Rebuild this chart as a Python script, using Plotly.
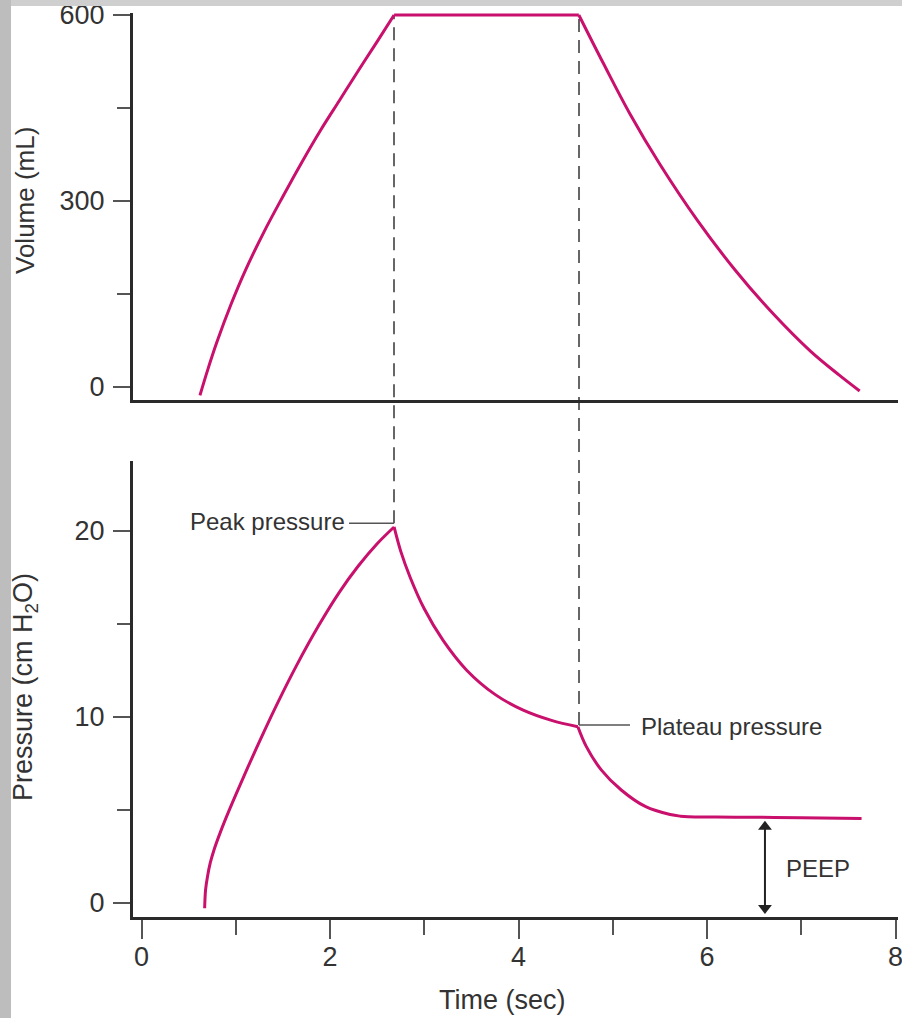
import plotly.graph_objects as go

# ---------------- data ----------------
# Volume (mL) vs time (sec)
vol_rise_t = [0.62, 0.70, 0.80, 0.95, 1.10, 1.30, 1.50, 1.70, 1.90, 2.10, 2.30, 2.50, 2.68]
vol_rise_v = [-14, 26, 72, 133, 187, 250, 307, 362, 414, 462, 510, 557, 600]
vol_hold_t = [2.68, 4.64]
vol_hold_v = [600, 600]
vol_fall_t = [4.64, 4.90, 5.18, 5.50, 5.90, 6.30, 6.70, 7.10, 7.40, 7.62]
vol_fall_v = [600, 522, 441, 359, 268, 188, 118, 57, 19, -7]

# Pressure (cm H2O) vs time (sec)
pres_rise_t = [0.67, 0.68, 0.70, 0.73, 0.77, 0.83, 0.90, 1.00, 1.13, 1.30, 1.45, 1.65, 1.88, 2.10, 2.30, 2.50, 2.68]
pres_rise_p = [-0.3, 0.7, 1.4, 2.15, 2.85, 3.7, 4.6, 5.8, 7.3, 9.2, 10.8, 12.8, 14.9, 16.7, 18.1, 19.3, 20.2]
pres_decay_t = [2.68, 2.75, 2.85, 3.00, 3.20, 3.45, 3.75, 4.05, 4.35, 4.63]
pres_decay_p = [20.2, 18.9, 17.5, 15.8, 14.1, 12.5, 11.2, 10.35, 9.8, 9.46]
pres_exp_t = [4.63, 4.72, 4.88, 5.09, 5.35, 5.61, 5.72, 5.80, 6.30, 7.00, 7.64]
pres_exp_p = [9.46, 8.39, 7.13, 6.06, 5.16, 4.74, 4.65, 4.62, 4.60, 4.57, 4.53]

peak_time, plateau_time = 2.679, 4.642
peak_label_p, plateau_label_p = 20.4, 9.55
peep_time, peep_bottom, peep_top = 6.615, -0.61, 4.41

vol_ticks, vol_minor = [0, 300, 600], [150, 450]
pres_ticks, pres_minor = [0, 10, 20], [5, 15]
time_ticks, time_minor = [0, 2, 4, 6, 8], [1, 3, 5, 7]

# ---------------- layout helpers ----------------
W, H = 902, 1018
def fx(px):
    return px / W
def fy(py):
    return 1 - py / H

FONT = "Liberation Sans, Arial, Helvetica, sans-serif"
TXT = "#333333"
AX = "#2a2a2a"
TK = "#555555"
CURVE = "#c8106c"

x_range = [(133 - 141.5) / 94.25, (898 - 141.5) / 94.25]
p_range = [-0.753, 23.763]
p_dom = [fy(916.7), fy(460.7)]
px_per_p = (916.7 - 460.7) / (p_range[1] - p_range[0])

fig = go.Figure()

for t, v in [(vol_rise_t, vol_rise_v), (vol_hold_t, vol_hold_v), (vol_fall_t, vol_fall_v)]:
    fig.add_trace(go.Scatter(x=t, y=v, mode="lines", xaxis="x", yaxis="y",
                             line=dict(color=CURVE, width=3, shape="spline", smoothing=1.0),
                             showlegend=False, hoverinfo="skip"))
for t, p in [(pres_rise_t, pres_rise_p), (pres_decay_t, pres_decay_p), (pres_exp_t, pres_exp_p)]:
    fig.add_trace(go.Scatter(x=t, y=p, mode="lines", xaxis="x2", yaxis="y2",
                             line=dict(color=CURVE, width=3, shape="spline", smoothing=1.0),
                             showlegend=False, hoverinfo="skip"))

# PEEP double arrow: shaft + two triangular heads
ms = 12
off = (ms / 2) / px_per_p
fig.add_trace(go.Scatter(x=[peep_time, peep_time], y=[peep_bottom + off, peep_top - off], mode="lines",
                         xaxis="x2", yaxis="y2", line=dict(color="#222222", width=2),
                         showlegend=False, hoverinfo="skip"))
fig.add_trace(go.Scatter(x=[peep_time, peep_time], y=[peep_top - off, peep_bottom + off], mode="markers",
                         xaxis="x2", yaxis="y2", cliponaxis=False,
                         marker=dict(symbol=["triangle-up", "triangle-down"], size=ms, color="#222222",
                                     line=dict(width=0)),
                         showlegend=False, hoverinfo="skip"))

common_axis = dict(showline=True, linecolor=AX, linewidth=3, showgrid=False, zeroline=False,
                   automargin=False, ticklabeloverflow="allow",
                   tickfont=dict(family=FONT, size=27, color=TXT), tickcolor=TK, tickwidth=1.5)

fig.update_layout(
    width=W, height=H,
    margin=dict(l=0, r=0, t=0, b=0, autoexpand=False),
    paper_bgcolor="white", plot_bgcolor="white",
    showlegend=False,
    xaxis=dict(domain=[fx(133), fx(898)], range=x_range, anchor="y",
               showticklabels=False, ticks="", showline=True, linecolor=AX, linewidth=3,
               showgrid=False, zeroline=False, automargin=False),
    yaxis=dict(domain=[fy(400), fy(12.5)], range=[-21.47, 604], anchor="x",
               tickvals=vol_ticks, ticks="outside", ticklen=17, ticklabelstandoff=3,
               minor=dict(tickvals=vol_minor, ticks="outside", ticklen=13, tickcolor=TK, tickwidth=1.5),
               **common_axis),
    xaxis2=dict(domain=[fx(133), fx(898)], range=x_range, anchor="y2",
                tickvals=time_ticks, ticks="outside", ticklen=19, ticklabelstandoff=-5,
                minor=dict(tickvals=time_minor, ticks="outside", ticklen=15, tickcolor=TK, tickwidth=1.5),
                **common_axis),
    yaxis2=dict(domain=p_dom, range=p_range, anchor="x2",
                tickvals=pres_ticks, ticks="outside", ticklen=17, ticklabelstandoff=3,
                minor=dict(tickvals=pres_minor, ticks="outside", ticklen=13, tickcolor=TK, tickwidth=1.5),
                **common_axis),
)

shapes = [
    # gray frame strips
    dict(type="rect", xref="paper", yref="paper", x0=0, x1=fx(11), y0=0, y1=1,
         fillcolor="#bdbdbd", line=dict(width=0), layer="above"),
    dict(type="rect", xref="paper", yref="paper", x0=fx(11), x1=1, y0=fy(6), y1=1,
         fillcolor="#cfcfcf", line=dict(width=0), layer="above"),
    # dashed guide lines
    dict(type="line", xref="x2", yref="paper", x0=peak_time, x1=peak_time, y0=fy(523.3), y1=fy(15),
         line=dict(color="#666666", width=2, dash="13px,8px"), layer="below"),
    dict(type="line", xref="x2", yref="paper", x0=plateau_time, x1=plateau_time, y0=fy(725), y1=fy(15),
         line=dict(color="#666666", width=2, dash="13px,8px"), layer="below"),
    # leader lines
    dict(type="line", xref="x2", yref="y2", x0=2.202, x1=peak_time, y0=peak_label_p, y1=peak_label_p,
         line=dict(color="#555555", width=1.5)),
    dict(type="line", xref="x2", yref="y2", x0=plateau_time, x1=5.183, y0=plateau_label_p, y1=plateau_label_p,
         line=dict(color="#555555", width=1.5)),
]
fig.update_layout(shapes=shapes)

ann = [
    dict(text="Time (sec)", xref="paper", yref="paper", x=fx(502.5), y=fy(1000),
         xanchor="center", yanchor="middle", showarrow=False, font=dict(family=FONT, size=27, color=TXT)),
    dict(text="Volume (mL)", xref="paper", yref="paper", x=fx(25), y=fy(201), textangle=-90,
         xanchor="center", yanchor="middle", showarrow=False, font=dict(family=FONT, size=26, color=TXT)),
    dict(text="Pressure (cm H<sub>2</sub>O)", xref="paper", yref="paper", x=fx(25), y=fy(687), textangle=-90,
         xanchor="center", yanchor="middle", showarrow=False, font=dict(family=FONT, size=27, color=TXT)),
    dict(text="Peak pressure", xref="x2", yref="y2", x=2.18, y=20.5, xanchor="right", yanchor="middle",
         showarrow=False, font=dict(family=FONT, size=24, color=TXT)),
    dict(text="Plateau pressure", xref="x2", yref="y2", x=5.279, y=9.46, xanchor="left", yanchor="middle",
         showarrow=False, font=dict(family=FONT, size=24, color=TXT)),
    dict(text="PEEP", xref="x2", yref="y2", x=6.82, y=1.84, xanchor="left", yanchor="middle",
         showarrow=False, font=dict(family=FONT, size=24, color=TXT)),
]
fig.update_layout(annotations=ann)

fig.write_html("out.html")
